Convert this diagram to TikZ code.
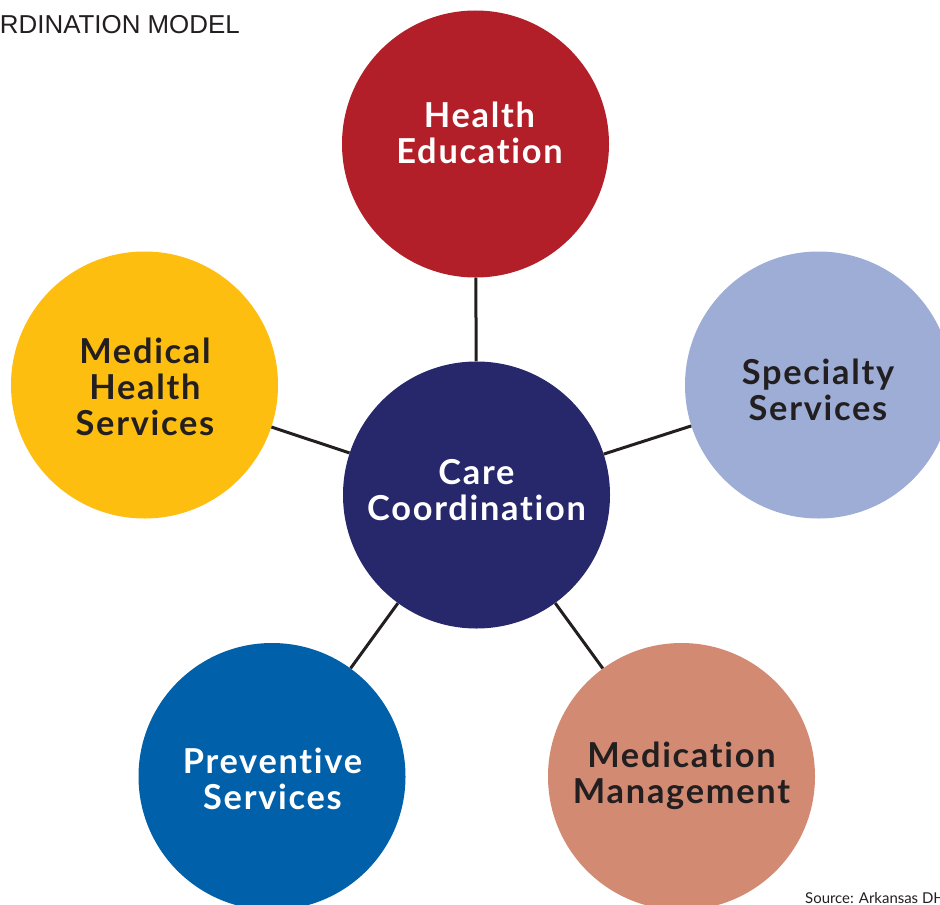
\documentclass[tikz,border=0pt]{standalone}
\usepackage{fontspec}
\setmainfont{Lato}[Ligatures={NoCommon,NoRequired,NoContextual}]
\newfontfamily\lblfont{Lato}[Ligatures={NoCommon,NoRequired,NoContextual},LetterSpace=5]
\newfontfamily\titlefont{Liberation Sans}
\definecolor{ink}{HTML}{231F20}
\definecolor{cred}{HTML}{B31F28}
\definecolor{cnavy}{HTML}{27276C}
\definecolor{cyellow}{HTML}{FDBE10}
\definecolor{clblue}{HTML}{9DADD5}
\definecolor{cblue}{HTML}{0060A9}
\definecolor{csalmon}{HTML}{D38A73}
\begin{document}
\begin{tikzpicture}[x=1bp,y=-1bp,
  bubble/.style={circle, minimum size=267bp, inner sep=0pt, draw=none},
  link/.style={line width=3bp, draw=ink},
  lbl/.style={font=\lblfont\fontsize{34.5}{36}\selectfont\bfseries, align=center, anchor=base, inner sep=0pt},
]
\useasboundingbox (0,0) rectangle (940,905);
\clip (0,0) rectangle (940,905);
\fill[white] (0,0) rectangle (940,905);

\node[bubble, fill=cred]     (health)  at (475.5,144) {};
\node[bubble, fill=cnavy]    (care)    at (476.5,495) {};
\node[bubble, fill=cyellow]  (medical) at (144.5,385) {};
\node[bubble, fill=clblue]   (spec)    at (818.5,385) {};
\node[bubble, fill=cblue]    (prev)    at (272,776.5) {};
\node[bubble, fill=csalmon]  (medic)   at (681.5,776.5) {};

\draw[link] (care) -- (health);
\draw[link] (care) -- (medical);
\draw[link] (care) -- (spec);
\draw[link] (care) -- (prev);
\draw[link] (care) -- (medic);

\node[lbl, text=white] (thealth) at (479.5,163) {Health\\Education};
\node[lbl, text=white] (tcare) at (476.5,520) {Care\\Coordination};
\node[lbl, text=ink] (tmedical) at (145,435) {Medical\\Health\\Services};
\node[lbl, text=ink] (tspec) at (818,420) {Specialty\\Services};
\node[lbl, text=white] (tprev) at (272.5,809) {Preventive\\Services};
\node[lbl, text=ink] (tmedic) at (681.5,803) {Medication\\Management};

\node[anchor=base east, inner sep=0pt, text=ink, font=\titlefont\fontsize{26}{30}\selectfont] (title) at (240,33) {RDINATION MODEL};
\node[anchor=base west, inner sep=0pt, text=ink, font=\fontsize{15}{17}\selectfont] (source) at (805,903) {Source: Arkansas DH};
\end{tikzpicture}
\end{document}
